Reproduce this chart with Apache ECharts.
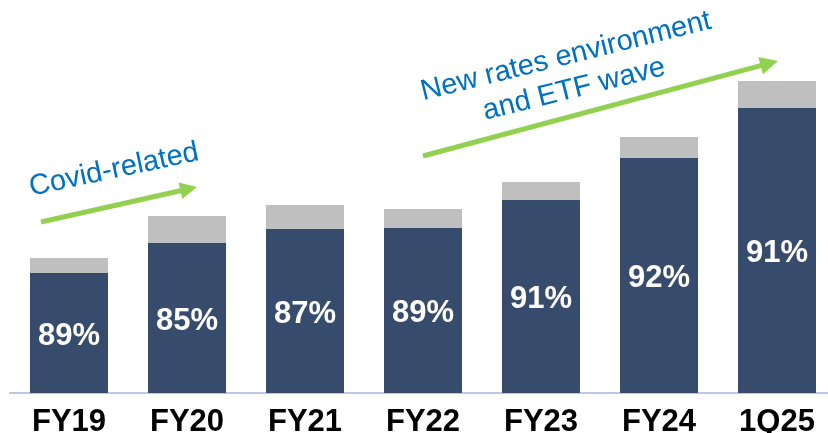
<!DOCTYPE html>
<html>
<head>
<meta charset="utf-8">
<script src="https://cdn.jsdelivr.net/npm/echarts@6/dist/echarts.min.js"></script>
<style>
html,body{margin:0;padding:0;background:#fff;}
#chart{width:828px;height:433px;}
</style>
</head>
<body>
<div id="chart"></div>
<script>
var categories = ['FY19', 'FY20', 'FY21', 'FY22', 'FY23', 'FY24', '1Q25'];
var coreValues = [120, 150, 164, 165, 193, 235, 285];
var otherValues = [15, 27, 24, 19, 18, 21, 27];
var shareLabels = ['89%', '85%', '87%', '89%', '91%', '92%', '91%'];
var annotationTexts = ['Covid-related', 'New rates environment\nand ETF wave'];

var FONT = '"Liberation Sans", Arial, sans-serif';
var NAVY = '#374c6c';
var GREY = '#bfbfbf';
var GREEN = '#92d050';
var BLUE = '#0070c0';

function arrow(x1, y1, x2, y2, thick, headLen, headW) {
  var dx = x2 - x1, dy = y2 - y1;
  var len = Math.sqrt(dx * dx + dy * dy);
  var ang = Math.atan2(-dy, dx);
  return {
    type: 'group',
    x: x1, y: y1,
    rotation: ang,
    children: [
      { type: 'rect', shape: { x: 0, y: -thick / 2, width: len - headLen + 1, height: thick }, style: { fill: GREEN } },
      { type: 'polygon', shape: { points: [[len - headLen, -headW / 2], [len, 0], [len - headLen, headW / 2]] }, style: { fill: GREEN } }
    ]
  };
}

var chart = echarts.init(document.getElementById('chart'), null, { renderer: 'canvas' });
chart.setOption({
  animation: false,
  backgroundColor: '#ffffff',
  grid: { left: 10, width: 826, top: 43, bottom: 40, containLabel: false, outerBoundsMode: 'none' },
  xAxis: {
    type: 'category',
    data: categories,
    axisTick: { show: false },
    axisLine: { show: true, lineStyle: { color: '#b9c9e0', width: 2 } },
    axisLabel: { color: '#000', fontSize: 31, fontWeight: 'bold', fontFamily: FONT, margin: 14 }
  },
  yAxis: { type: 'value', min: 0, max: 350, show: false, splitLine: { show: false } },
  series: [
    {
      type: 'bar', stack: 'a', data: coreValues, barWidth: 78,
      itemStyle: { color: NAVY },
      label: {
        show: true, position: 'inside', color: '#fff', fontSize: 31, fontWeight: 'bold', fontFamily: FONT,
        offset: [0, 3],
        formatter: function (p) { return shareLabels[p.dataIndex]; }
      }
    },
    {
      type: 'bar', stack: 'a', data: otherValues, barWidth: 78,
      itemStyle: { color: GREY }
    }
  ],
  graphic: [
    arrow(41, 222, 197, 187, 5, 17, 17),
    arrow(423, 156, 778, 61, 5, 18, 18),
    {
      type: 'text', x: 114, y: 170, rotation: 12 * Math.PI / 180,
      style: { text: annotationTexts[0], fill: BLUE, font: '29px ' + FONT, textAlign: 'center', textVerticalAlign: 'middle' }
    },
    {
      type: 'text', x: 570, y: 73, rotation: 14 * Math.PI / 180,
      style: { text: annotationTexts[1], fill: BLUE, font: '29px ' + FONT, textAlign: 'center', textVerticalAlign: 'middle', lineHeight: 34 }
    }
  ]
});
</script>
</body>
</html>
